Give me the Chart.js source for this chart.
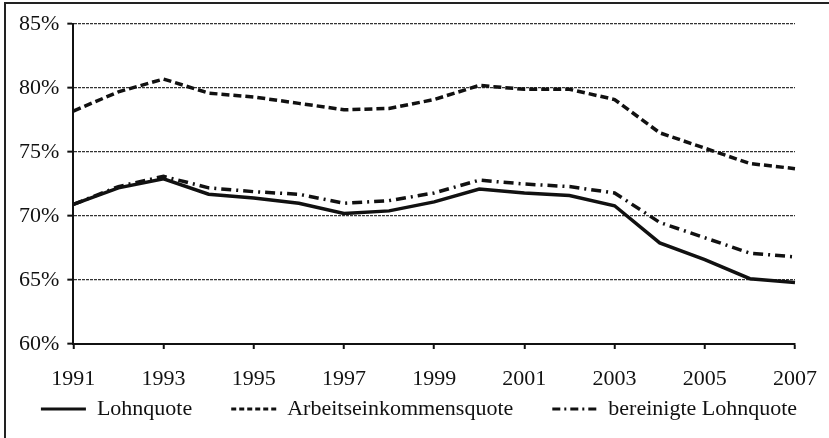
<!DOCTYPE html>
<html>
<head>
<meta charset="utf-8">
<script src="https://cdn.jsdelivr.net/npm/chart.js@4/dist/chart.umd.min.js"></script>
<style>
    html, body { margin: 0; padding: 0; background: #fff; }
    #box { position: relative; width: 829px; height: 438px; }
    #rahmen {
        position: absolute; left: 4px; top: 2px; right: 0; bottom: 0;
        border-left: 2px solid #222; border-top: 2px solid #222;
        pointer-events: none;
    }
</style>
</head>
<body>
<div id="box">
    <canvas id="grafica" width="829" height="438"></canvas>
    <div id="rahmen"></div>
</div>
<script>
const jahre = ['1991','1992','1993','1994','1995','1996','1997','1998','1999',
               '2000','2001','2002','2003','2004','2005','2006','2007'];

const lohnquote = [70.9, 72.2, 72.9, 71.7, 71.4, 71.0, 70.2, 70.4, 71.1,
                   72.1, 71.8, 71.6, 70.8, 67.9, 66.6, 65.1, 64.8];

const arbeitseinkommensquote = [78.2, 79.7, 80.7, 79.6, 79.3, 78.8, 78.3, 78.4, 79.1,
                                80.2, 79.9, 79.9, 79.1, 76.5, 75.3, 74.1, 73.7];

const bereinigteLohnquote = [70.9, 72.3, 73.1, 72.2, 71.9, 71.7, 71.0, 71.2, 71.8,
                             72.8, 72.5, 72.3, 71.8, 69.5, 68.3, 67.1, 66.8];

const yTicks = [60, 65, 70, 75, 80, 85];

const schrift = { family: '"Liberation Serif", "Times New Roman", serif', size: 22, lineHeight: 1 };

// dash patterns for lines and the legend samples
const strichLinie = [8, 4];
const strichPunkt = [10, 5, 2, 5];
const legendeStrich = [5, 3];
const legendeStrichPunkt = [8, 4, 2, 4];

function linie(titulo, datos, dash, legendeDash){
    return {
        label: titulo,
        data: datos,
        borderColor: '#111',
        backgroundColor: '#111',
        borderWidth: 3.5,
        borderDash: dash,
        legendeDash: legendeDash,
        pointRadius: 0,
        pointStyle: 'line',
        tension: 0,
        fill: false
    };
}

// the legend sits a bit right of the plot centre in the original
const legendeVerschieben = {
    id: 'legendeVerschieben',
    afterLayout(chart){
        chart.legend.left += 16;
        chart.legend.right += 16;
    }
};

new Chart(document.getElementById('grafica'), {
    type: 'line',
    data: {
        labels: jahre,
        datasets: [
            linie('Lohnquote', lohnquote, [], []),
            linie('Arbeitseinkommensquote', arbeitseinkommensquote, strichLinie, legendeStrich),
            linie('bereinigte Lohnquote', bereinigteLohnquote, strichPunkt, legendeStrichPunkt)
        ]
    },
    plugins: [legendeVerschieben],
    options: {
        responsive: false,
        animation: false,
        layout: { padding: { left: 11, right: 34, top: 24, bottom: 8 } },
        plugins: {
            tooltip: { enabled: false },
            legend: {
                position: 'bottom',
                labels: {
                    color: '#111',
                    font: schrift,
                    usePointStyle: true,
                    pointStyleWidth: 45,
                    padding: 6,
                    generateLabels: function(chart){
                        const n = chart.data.datasets.length;
                        return chart.data.datasets.map((ds, i) => ({
                            // en spaces keep the gap between the legend entries
                            text: i < n - 1 ? ds.label + '\u2002\u2002\u2002' : ds.label,
                            datasetIndex: i,
                            fillStyle: ds.borderColor,
                            strokeStyle: ds.borderColor,
                            fontColor: '#111',
                            lineWidth: 3,
                            lineDash: ds.legendeDash,
                            pointStyle: 'line',
                            hidden: false
                        }));
                    }
                }
            }
        },
        scales: {
            x: {
                offset: false,
                afterFit: function(scale){
                    // no extra room under the year labels, no overhang to the right
                    scale.height = 48;
                    scale.paddingRight = 0;
                },
                ticks: {
                    color: '#111',
                    font: schrift,
                    autoSkip: false,
                    maxRotation: 0,
                    padding: 19,
                    callback: function(v, i){
                        return i % 2 === 0 ? jahre[i] : null;
                    }
                },
                grid: {
                    drawOnChartArea: true,
                    tickLength: 5,
                    lineWidth: 1.5,
                    color: function(ctx){
                        return ctx.index === jahre.length - 1 ? '#333' : 'rgba(0,0,0,0)';
                    },
                    tickColor: '#111',
                    tickWidth: 2
                },
                border: { color: '#111', width: 2, dash: [2, 1] }
            },
            y: {
                min: 60,
                max: 85,
                afterBuildTicks: function(axis){
                    axis.ticks = yTicks.map(v => ({ value: v }));
                },
                ticks: {
                    color: '#111',
                    font: schrift,
                    padding: 8,
                    callback: v => v + '%'
                },
                grid: {
                    color: '#333',
                    lineWidth: 1.3,
                    tickLength: 6,
                    tickColor: '#111',
                    tickWidth: 2
                },
                border: { color: '#111', width: 2, dash: [3, 1] }
            }
        }
    }
});
</script>
</body>
</html>
